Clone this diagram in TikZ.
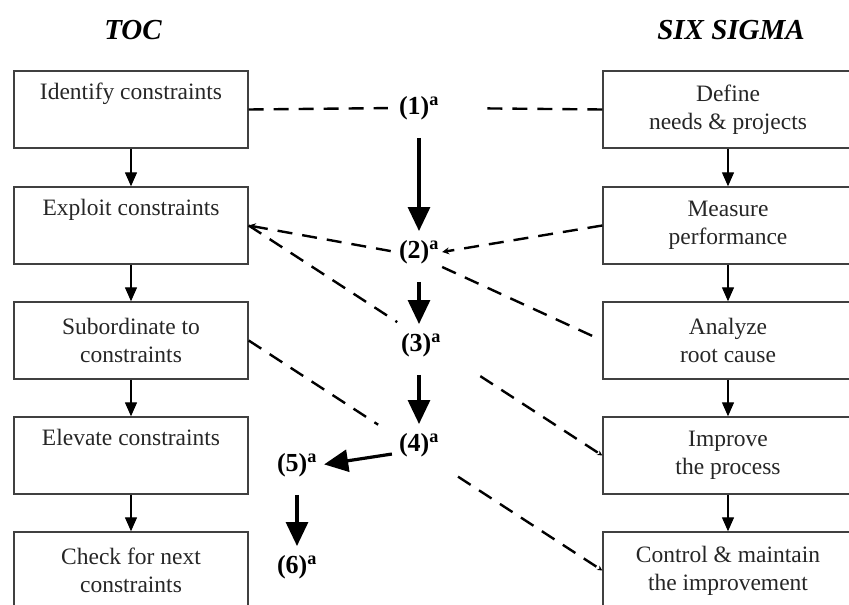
\documentclass[tikz,border=0pt]{standalone}
\usepackage{fontspec}
\setmainfont{Liberation Serif}
\usetikzlibrary{arrows.meta}

\tikzset{
  box/.style={draw=black!75, line width=1.4pt, minimum width=234pt,
    minimum height=77pt, align=center, text=black!85,
    font=\fontsize{23.5}{28}\selectfont},
  rbox/.style={box, minimum width=250pt},
  boxarrow/.style={line width=1.3pt, -{Triangle[length=14pt,width=12pt]}},
  link/.style={dash pattern=on 15pt off 10pt, line width=2.4pt},
  lab/.style={font=\fontsize{26}{30}\selectfont\bfseries, inner sep=3pt},
  flow/.style={line width=3.2pt, -{Triangle[length=24pt,width=22pt]},
    shorten <=15pt, shorten >=6pt},
  title/.style={font=\fontsize{29}{34}\selectfont\bfseries\itshape}
}
\newcommand{\phase}[1]{(#1)\textsuperscript{a}}

\begin{document}
\begin{tikzpicture}[x=1pt, y=-1pt]
  \clip (0,0) rectangle (849,605);

  % --- titles ---
  \node[title] (toc) at (133,30) {TOC};
  \node[title] (sixsigma) at (731,30) {SIX SIGMA};

  % --- TOC steps ---
  \node[box] (identify) at (131,109.5) {Identify constraints\\\strut};
  \node[box] (exploit)  at (131,225.5) {Exploit constraints\\\strut};
  \node[box] (subord)   at (131,340.5) {Subordinate to\\constraints};
  \node[box] (elevate)  at (131,455.5) {Elevate constraints\\\strut};
  \node[box] (check)    at (131,570.5) {Check for next\\constraints};

  \draw[boxarrow] (identify) -- (exploit);
  \draw[boxarrow] (exploit) -- (subord);
  \draw[boxarrow] (subord) -- (elevate);
  \draw[boxarrow] (elevate) -- (check);

  % --- six sigma steps ---
  \node[rbox] (define)  at (728,109.5) {Define\\needs \& projects};
  \node[rbox] (measure) at (728,225.5) {Measure\\performance};
  \node[rbox] (analyze) at (728,340.5) {Analyze\\root cause};
  \node[rbox] (improve) at (728,455.5) {Improve\\the process};
  \node[rbox] (control) at (728,570.5) {Control \& maintain\\the improvement};

  \draw[boxarrow] (define) -- (measure);
  \draw[boxarrow] (measure) -- (analyze);
  \draw[boxarrow] (analyze) -- (improve);
  \draw[boxarrow] (improve) -- (control);

  % --- integration phases ---
  \node[lab] (l1) at (419,108) {\phase{1}};
  \node[lab] (l2) at (419,252) {\phase{2}};
  \node[lab] (l3) at (421,345) {\phase{3}};
  \node[lab] (l4) at (419,445) {\phase{4}};
  \node[lab] (l5) at (297,465) {\phase{5}};
  \node[lab] (l6) at (297,567) {\phase{6}};

  \draw[flow] (l1.south) -- (l2.north);
  \draw[flow] (l2.south) -- (l2.south |- l3.north);
  \draw[flow] (l3.south -| l4) -- (l4.north);
  \draw[flow, shorten <=4pt, shorten >=4pt] (l4.200) -- (l5.east);
  \draw[flow] (l5.south) -- (l6.north);

  % --- dashed links ---
  \draw[link, shorten >=8pt] (identify.east) -- (l1.west);
  \draw[link, shorten >=37pt] (define.west) -- (l1.east);

  \draw[link, {Stealth[length=7pt,width=7pt]}-] (exploit.east) -- (l2.west);
  \draw[link, -{Stealth[length=7pt,width=7pt]}] (measure.west) -- (l2.east);
  \draw[link, shorten >=8pt] (l2.south east) -- (analyze.west);

  \path (exploit.east) -- (improve.west)
    coordinate[pos=0.42] (e3a) coordinate[pos=0.655] (e3b);
  \draw[link] (exploit.east) -- (e3a);
  \draw[link, -{Stealth[length=5pt,width=5pt]}] (e3b) -- (improve.west);

  \path (subord.east) -- (control.west)
    coordinate[pos=0.366] (s4a) coordinate[pos=0.592] (s4b);
  \draw[link] (subord.east) -- (s4a);
  \draw[link, -{Stealth[length=5pt,width=5pt]}] (s4b) -- (control.west);

\end{tikzpicture}
\end{document}
